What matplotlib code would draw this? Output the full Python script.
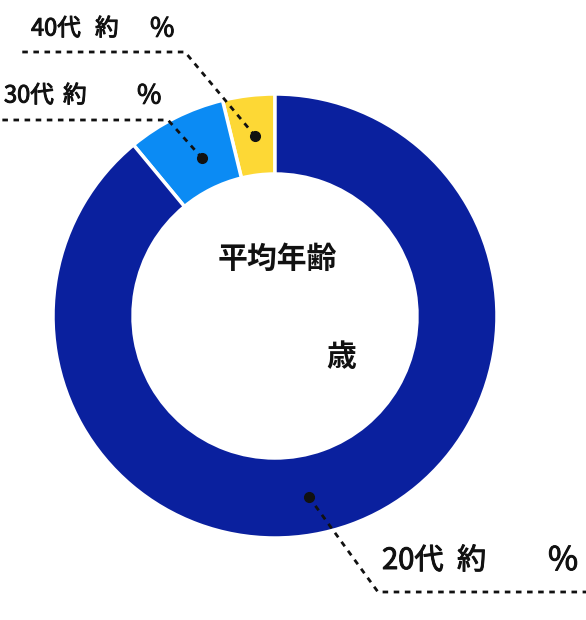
import numpy as np
import matplotlib
matplotlib.use("Agg")
import matplotlib.pyplot as plt
import matplotlib.patheffects as pe

plt.rcParams['font.family'] = ['Noto Sans CJK JP', 'DejaVu Sans']

# 年代別の割合 (上から反時計回り)
labels = ["40代", "30代", "20代"]
shares = [3.8, 7.2, 89.0]
colors = ["#FDD835", "#0B8BF4", "#0A209E"]

W, H = 586, 620
fig = plt.figure(figsize=(W / 100, H / 100), dpi=100)
ax = fig.add_axes([0, 0, 1, 1])

cx, cy = 275, H - 316
R, ring = 222, 80

wedges, _ = ax.pie(shares, colors=colors, startangle=90, counterclock=True,
                   radius=R, center=(cx, cy), frame=True,
                   wedgeprops=dict(width=ring, edgecolor='white', linewidth=2.5))
ax.set_xlim(0, W)
ax.set_ylim(0, H)
ax.set_aspect('equal')
ax.axis('off')

# 中央のテキスト
ax.text(277, H - 259, "平均年齢", ha='center', va='center', fontsize=21.5, fontweight='bold', color='#111111')
ax.text(341, H - 357, "歳", ha='center', va='center', fontsize=21.5, fontweight='bold', color='#111111')

def dot_at(ang, r):
    a = np.deg2rad(ang)
    return cx + r * np.cos(a), cy + r * np.sin(a)

thick = [pe.withStroke(linewidth=0.7, foreground='#111111')]

# 引き出し線: (角度, 半径, 折れ点, 終点, 文字のx位置, y, フォントサイズ)
leaders = [
    (96.3, 181, (185, H - 52), (22, H - 52), (31, 95, 150), H - 29, 17),
    (114.8, 174, (168, H - 120), (0, H - 120), (4, 63, 137), H - 96, 17),
    (280.6, 184, (378, H - 592), (W, H - 592), (382, 457, 548), H - 561, 21),
]
for lab, (ang, r, knee, end, xs, ty, fs) in zip(labels, leaders):
    dot = dot_at(ang, r)
    ax.plot([dot[0], knee[0], end[0]], [dot[1], knee[1], end[1]],
            color='#111111', lw=2, linestyle=(0, (2, 2)))
    ax.plot(dot[0], dot[1], 'o', color='#111111', markersize=7)
    for x, s, k in zip(xs, [lab, "約", "%"], [1.0, 1.0, 1.12]):
        ax.text(x, ty, s, ha='left', va='center', fontsize=fs * k, color='#111111',
                path_effects=thick)

fig.savefig("out.png", dpi=100)
